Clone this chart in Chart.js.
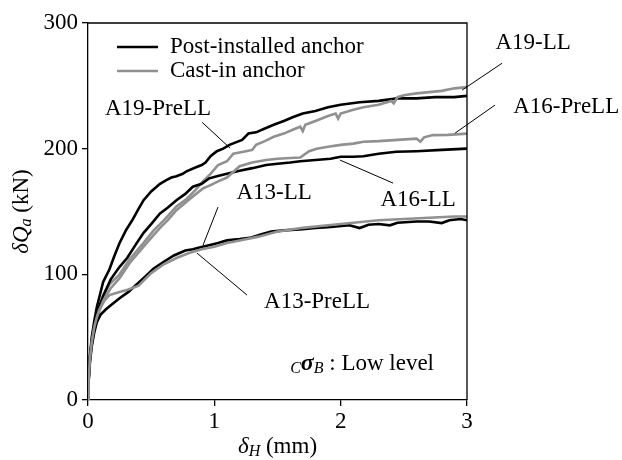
<!DOCTYPE html>
<html>
<head>
<meta charset="utf-8">
<script src="https://cdn.jsdelivr.net/npm/chart.js@4.4.1/dist/chart.umd.min.js"></script>
<style>
  html, body { margin: 0; padding: 0; background: #fff; }
  #wrap { width: 622px; height: 460px; }
</style>
</head>
<body>
<div id="wrap"><canvas id="chart"></canvas></div>
<script>
// horizontal displacement (mm) and shear force (kN)
const a19PostX = [0, 0.005, 0.015, 0.03, 0.05, 0.07, 0.09, 0.12, 0.17, 0.21, 0.25, 0.3, 0.35, 0.4, 0.44, 0.5, 0.57, 0.62, 0.66, 0.7, 0.75, 0.78, 0.85, 0.9, 0.93, 0.97, 1.02, 1.07, 1.12, 1.17, 1.22, 1.27, 1.33, 1.4, 1.47, 1.55, 1.62, 1.7, 1.8, 1.9, 2.0, 2.15, 2.3, 2.45, 2.6, 2.75, 2.9, 3.0];
const a19PostQ = [0, 18, 35, 50, 63, 74, 82, 94, 104, 115, 125, 135, 143, 152, 159, 166, 172, 175, 177, 178, 180, 182, 185, 187, 189, 194, 198, 200, 203, 205, 207, 212, 213, 216, 219, 222, 225, 228, 230, 233, 235, 237, 238, 240, 240, 241, 241, 242];

const a19CastX = [0, 0.005, 0.015, 0.03, 0.05, 0.08, 0.12, 0.17, 0.25, 0.33, 0.44, 0.52, 0.6, 0.7, 0.78, 0.85, 0.91, 0.97, 1.03, 1.1, 1.15, 1.2, 1.25, 1.3, 1.33, 1.4, 1.47, 1.55, 1.62, 1.68, 1.7, 1.72, 1.8, 1.9, 1.96, 1.98, 2.0, 2.1, 2.18, 2.3, 2.4, 2.42, 2.45, 2.5, 2.6, 2.7, 2.8, 2.9, 3.0];
const a19CastQ = [0, 16, 32, 46, 58, 70, 82, 92, 100, 112, 125, 135, 143, 154, 160, 167, 174, 180, 187, 190, 196, 197, 198, 199, 203, 206, 209.5, 212, 215, 217.5, 214, 219, 222, 226, 228, 224, 228, 231, 233, 235, 238, 236, 241, 242.5, 244, 245, 246, 248, 249];

const a16PostX = [0, 0.005, 0.015, 0.03, 0.05, 0.08, 0.12, 0.18, 0.25, 0.31, 0.38, 0.44, 0.5, 0.57, 0.63, 0.7, 0.77, 0.83, 0.9, 0.96, 1.02, 1.1, 1.2, 1.3, 1.41, 1.5, 1.6, 1.68, 1.8, 1.92, 2.0, 2.1, 2.18, 2.3, 2.44, 2.6, 2.8, 3.0];
const a16PostQ = [0, 17, 33, 47, 59, 72, 83, 96, 106, 113, 124, 133, 140, 148.5, 153, 159, 164, 169.7, 172, 176.4, 178, 180, 182.5, 184.5, 187, 188, 189, 190, 191, 192, 193.6, 193.6, 194, 196, 197.5, 198, 199, 200];

const a16CastX = [0, 0.005, 0.015, 0.03, 0.05, 0.08, 0.12, 0.18, 0.25, 0.33, 0.44, 0.5, 0.57, 0.63, 0.7, 0.77, 0.83, 0.91, 0.97, 1.03, 1.1, 1.2, 1.3, 1.41, 1.5, 1.6, 1.68, 1.75, 1.81, 1.9, 2.0, 2.1, 2.18, 2.3, 2.45, 2.6, 2.63, 2.66, 2.73, 2.85, 3.0];
const a16CastQ = [0, 15, 30, 44, 56, 68, 79, 89, 97, 109, 122, 129, 137, 143, 151, 157, 162, 168.4, 171, 174, 177, 186, 189, 191, 192, 192.6, 193, 198, 200, 201.5, 203, 204, 205.5, 206, 207, 208, 205.5, 209, 210.8, 211, 212];

const a13PostX = [0, 0.005, 0.015, 0.03, 0.05, 0.07, 0.1, 0.14, 0.2, 0.25, 0.32, 0.38, 0.45, 0.52, 0.6, 0.68, 0.77, 0.83, 0.89, 0.95, 1.03, 1.1, 1.2, 1.28, 1.38, 1.45, 1.55, 1.7, 1.8, 1.9, 2.07, 2.15, 2.22, 2.3, 2.39, 2.45, 2.6, 2.7, 2.8, 2.86, 2.95, 3.0];
const a13PostQ = [0, 15, 30, 43, 54, 62, 68, 72, 77, 81, 86, 91.5, 98, 104.7, 110, 115, 119, 120, 121.5, 123, 125, 127, 128, 129, 132, 134, 135, 136, 137, 137.5, 139, 136.8, 139.5, 140, 139, 141, 142, 142, 140.8, 143, 144, 143];

const a13CastX = [0, 0.005, 0.015, 0.03, 0.05, 0.07, 0.09, 0.13, 0.17, 0.25, 0.32, 0.4, 0.5, 0.6, 0.7, 0.8, 0.9, 1.0, 1.1, 1.2, 1.35, 1.5, 1.7, 1.9, 2.1, 2.3, 2.5, 2.7, 2.9, 3.0];
const a13CastQ = [0, 16, 32, 46, 58, 66, 72, 79, 83.5, 86, 88, 91, 101, 108, 113, 117, 120, 122, 125, 127, 130, 134, 137, 139, 141, 143, 144, 145, 146, 146];

const xTicks = [0, 1, 2, 3];
const yTicks = [0, 100, 200, 300];
const legendItems = [
  { text: 'Post-installed anchor', color: '#000000' },
  { text: 'Cast-in anchor', color: '#909090' },
];
// curve names, text centre and leader line end points, in data units
const curveLabels = [
  { text: 'A19-PreLL', at: [0.554, 232], from: [0.903, 221], to: [1.124, 200.5] },
  { text: 'A19-LL', at: [3.523, 284], from: [3.278, 268], to: [2.961, 246.6] },
  { text: 'A16-PreLL', at: [3.785, 233], from: [3.222, 234.7], to: [2.906, 212.4] },
  { text: 'A16-LL', at: [2.613, 159], from: [2.415, 172.6], to: [1.995, 190.9] },
  { text: 'A13-LL', at: [1.473, 164.7], from: [1.029, 153.5], to: [0.911, 123.3] },
  { text: 'A13-PreLL', at: [1.813, 78], from: [1.259, 83.5], to: [0.863, 116.9] },
];
const noteAt = [1.6, 28.6];

const SERIF = '"Liberation Serif", "Times New Roman", serif';
const BLACK = '#000000';
const GRAY = '#909090';

const toPoints = (xs, ys) => xs.map((x, i) => ({ x, y: ys[i] }));
const series = [
  { data: toPoints(a13CastX, a13CastQ), color: GRAY },
  { data: toPoints(a13PostX, a13PostQ), color: BLACK },
  { data: toPoints(a16CastX, a16CastQ), color: GRAY },
  { data: toPoints(a16PostX, a16PostQ), color: BLACK },
  { data: toPoints(a19CastX, a19CastQ), color: GRAY },
  { data: toPoints(a19PostX, a19PostQ), color: BLACK },
];

// draws runs of text with per-run font and baseline shift, starting at x
const drawRuns = (ctx, runs, x, y) => {
  let cx = x;
  runs.forEach((run) => {
    ctx.font = run.font;
    ctx.fillText(run.text, cx, y + (run.dy || 0));
    cx += ctx.measureText(run.text).width;
  });
};
const runsWidth = (ctx, runs) => runs.reduce((w, run) => {
  ctx.font = run.font;
  return w + ctx.measureText(run.text).width;
}, 0);

const decorPlugin = {
  id: 'decor',
  afterDatasetsDraw(chart) {
    const { ctx, chartArea: area, scales } = chart;
    const px = (v) => scales.x.getPixelForValue(v);
    const py = (v) => scales.y.getPixelForValue(v);
    ctx.save();

    // frame top and right
    ctx.strokeStyle = BLACK;
    ctx.lineWidth = 1.3;
    ctx.beginPath();
    ctx.moveTo(area.left, area.top);
    ctx.lineTo(area.right, area.top);
    ctx.lineTo(area.right, area.bottom);
    ctx.stroke();

    // leader lines and curve names
    ctx.lineWidth = 1;
    ctx.fillStyle = BLACK;
    ctx.textBaseline = 'middle';
    ctx.textAlign = 'center';
    ctx.font = `23px ${SERIF}`;
    curveLabels.forEach((lab) => {
      ctx.beginPath();
      ctx.moveTo(px(lab.from[0]), py(lab.from[1]));
      ctx.lineTo(px(lab.to[0]), py(lab.to[1]));
      ctx.stroke();
      ctx.fillText(lab.text, px(lab.at[0]), py(lab.at[1]));
    });

    // legend
    ctx.textAlign = 'left';
    legendItems.forEach((item, i) => {
      const y = area.top + 24 + i * 24;
      ctx.strokeStyle = item.color;
      ctx.lineWidth = 2.6;
      ctx.beginPath();
      ctx.moveTo(area.left + 29, y);
      ctx.lineTo(area.left + 70, y);
      ctx.stroke();
      ctx.font = `23px ${SERIF}`;
      ctx.fillText(item.text, area.left + 82, y);
    });

    // concrete strength note
    drawRuns(ctx, [
      { text: 'C', font: `italic 16px ${SERIF}`, dy: 5 },
      { text: 'σ', font: `italic bold 24px ${SERIF}` },
      { text: 'B', font: `italic 16px ${SERIF}`, dy: 5 },
      { text: ' : Low level', font: `23px ${SERIF}` },
    ], px(noteAt[0]), py(noteAt[1]));

    // x axis title
    const xRuns = [
      { text: 'δ', font: `italic 23px ${SERIF}` },
      { text: 'H', font: `italic 16px ${SERIF}`, dy: 5 },
      { text: ' (mm)', font: `23px ${SERIF}` },
    ];
    const xMid = (area.left + area.right) / 2;
    drawRuns(ctx, xRuns, xMid - runsWidth(ctx, xRuns) / 2, 447);

    // y axis title, rotated
    const yRuns = [
      { text: 'δ', font: `italic 23px ${SERIF}` },
      { text: 'Q', font: `italic 23px ${SERIF}` },
      { text: 'a', font: `italic 16px ${SERIF}`, dy: 5 },
      { text: ' (kN)', font: `23px ${SERIF}` },
    ];
    ctx.translate(22, (area.top + area.bottom) / 2);
    ctx.rotate(-Math.PI / 2);
    drawRuns(ctx, yRuns, -runsWidth(ctx, yRuns) / 2, 0);

    ctx.restore();
  },
};

const tickFont = { family: SERIF, size: 23 };

new Chart(document.getElementById('chart'), {
  type: 'line',
  data: {
    datasets: series.map((s) => ({
      data: s.data,
      borderColor: s.color,
      borderWidth: 2.6,
      pointRadius: 0,
      tension: 0,
      fill: false,
    })),
  },
  options: {
    responsive: true,
    maintainAspectRatio: false,
    animation: false,
    layout: { padding: { left: 0, top: 23, right: 155, bottom: 0 } },
    plugins: { legend: { display: false }, tooltip: { enabled: false } },
    scales: {
      x: {
        type: 'linear',
        min: 0,
        max: 3,
        afterBuildTicks: (scale) => { scale.ticks = xTicks.map((value) => ({ value })); },
        afterFit: (scale) => { scale.height = 60; },
        ticks: { font: tickFont, color: BLACK, padding: 2, maxRotation: 0 },
        grid: { drawOnChartArea: false, drawTicks: true, tickLength: 6, color: BLACK, lineWidth: 1.3 },
        border: { display: true, color: BLACK, width: 1.3 },
      },
      y: {
        type: 'linear',
        min: 0,
        max: 300,
        afterBuildTicks: (scale) => { scale.ticks = yTicks.map((value) => ({ value })); },
        afterFit: (scale) => { scale.width = 88; },
        ticks: { font: tickFont, color: BLACK, padding: 4 },
        grid: { drawOnChartArea: false, drawTicks: true, tickLength: 6, color: BLACK, lineWidth: 1.3 },
        border: { display: true, color: BLACK, width: 1.3 },
      },
    },
  },
  plugins: [decorPlugin],
});
</script>
</body>
</html>
